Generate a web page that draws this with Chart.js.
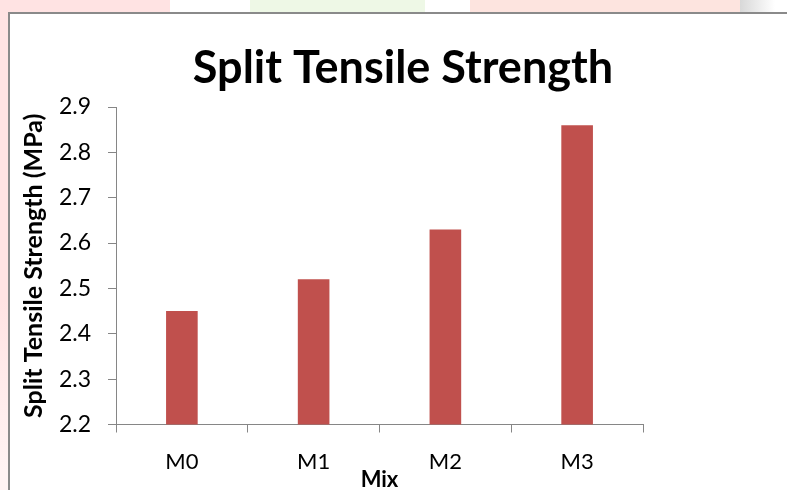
<!DOCTYPE html>
<html lang="en">
<head>
    <meta charset="UTF-8">
    <title>Split Tensile Strength</title>
    <script src="https://cdn.jsdelivr.net/npm/chart.js"></script>
    <style>
        body {
            margin: 0;
            width: 787px;
            height: 490px;
            overflow: hidden;
            position: relative;
            /* faint watermark colours behind the frame */
            background:
                linear-gradient(to right, #ffe3e3 0px, #ffe3e3 170px, #ffffff 170px, #ffffff 250px,
                    #eef8e6 250px, #eef8e6 425px, #ffffff 425px, #ffffff 470px,
                    #fde4df 470px, #fde4df 740px, #d8d8d8 740px, #ffffff 775px) top left / 787px 12px no-repeat,
                linear-gradient(to bottom, #ffe3e3 0px, #ffe3e3 300px, #fff3f3 470px) top left / 8px 490px no-repeat,
                #ffffff;
        }
        .frame {
            position: absolute;
            left: 8px;
            top: 12px;
            width: 800px;
            height: 500px;
            background: #ffffff;
            border-left: 2px solid #8a8a8a;
            border-top: 2px solid #8a8a8a;
        }
        #chart {
            position: absolute;
            left: 0;
            top: 0;
        }
    </style>
</head>
<body>
    <div class="frame"></div>
    <canvas id="chart" width="787" height="490"></canvas>

    <script>
        // data
        const mixes = ['M0', 'M1', 'M2', 'M3'];
        const strength = [2.45, 2.52, 2.63, 2.86];
        const yTicks = [2.2, 2.3, 2.4, 2.5, 2.6, 2.7, 2.8, 2.9];

        const axisColor = '#868686';
        const fontFamily = 'Lato, "Open Sans", sans-serif';

        new Chart(document.getElementById('chart'), {
            type: 'bar',
            data: {
                labels: mixes,
                datasets: [{
                    label: 'Split Tensile Strength',
                    data: strength,
                    backgroundColor: '#c0504d',
                    borderWidth: 0,
                    categoryPercentage: 1,
                    barPercentage: 0.24,
                }],
            },
            options: {
                responsive: false,
                animation: false,
                devicePixelRatio: 1,
                layout: { padding: { left: 19, right: 0, top: 0, bottom: 0 } },
                plugins: {
                    legend: { display: false },
                    tooltip: { enabled: false },
                    title: {
                        display: true,
                        text: 'Split Tensile Strength',
                        color: '#000',
                        font: { family: fontFamily, size: 45, weight: 'bold' },
                        padding: { top: 41, bottom: 12 },
                    },
                },
                scales: {
                    x: {
                        grid: {
                            offset: true,
                            drawOnChartArea: false,
                            drawTicks: true,
                            tickLength: 8,
                            color: axisColor,
                        },
                        border: { color: axisColor, width: 1 },
                        ticks: {
                            color: '#000',
                            padding: 16,
                            font: { family: fontFamily, size: 22 },
                        },
                        title: {
                            display: true,
                            text: 'Mix',
                            color: '#000',
                            font: { family: fontFamily, size: 22, weight: 'bold' },
                            padding: { top: 0, bottom: -3 },
                        },
                        afterFit: (scale) => { scale.height = 65.5; },
                    },
                    y: {
                        min: 2.2,
                        max: 2.9,
                        afterBuildTicks: (scale) => {
                            scale.ticks = yTicks.map(v => ({ value: v }));
                        },
                        grid: {
                            drawOnChartArea: false,
                            drawTicks: true,
                            tickLength: 8,
                            color: axisColor,
                        },
                        border: { color: axisColor, width: 1 },
                        ticks: {
                            color: '#000',
                            padding: 17,
                            font: { family: fontFamily, size: 23 },
                            callback: (v) => Number(v).toFixed(1),
                        },
                        title: {
                            display: true,
                            text: 'Split Tensile Strength (MPa)',
                            color: '#000',
                            font: { family: fontFamily, size: 25, weight: 'bold' },
                            padding: 0,
                        },
                        afterFit: (scale) => { scale.width = 97; },
                    },
                    // empty right-hand axis that only keeps the blank space right of the plot
                    yRight: {
                        position: 'right',
                        display: true,
                        grid: { display: false },
                        border: { display: false },
                        ticks: { display: false },
                        afterFit: (scale) => { scale.width = 144; },
                    },
                },
            },
        });
    </script>
</body>
</html>
